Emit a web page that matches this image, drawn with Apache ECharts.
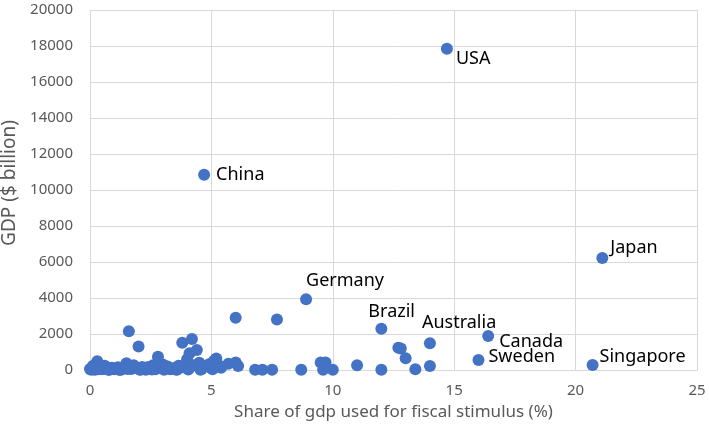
<!DOCTYPE html>
<html>
<head>
<meta charset="utf-8">
<script src="https://cdn.jsdelivr.net/npm/echarts@6/dist/echarts.min.js"></script>
<style>
  html, body { margin: 0; padding: 0; background: #fff; }
  #chart { width: 709px; height: 424px; }
</style>
</head>
<body>
<div id="chart"></div>
<script>
// labelled countries
var countryNames = ['USA', 'China', 'Japan', 'Germany', 'Brazil', 'Australia', 'Canada', 'Sweden', 'Singapore'];
var countryShare = [14.7, 4.7, 21.1, 8.9, 12.0, 14.0, 16.4, 16.0, 20.7];
var countryGdp = [17850, 10850, 6220, 3930, 2290, 1480, 1890, 560, 280];

// unlabelled countries
var otherShare = [
  1.6, 2.0, 3.8, 4.2, 4.1, 4.4, 2.8, 0.3, 5.2, 5.7, 6.0, 6.1, 6.8, 7.1, 7.5,
  6.0, 7.7, 8.7, 9.5, 9.7, 9.6, 10.0, 11.0, 12.0, 12.7, 12.8, 13.0, 13.4, 14.0,
  0.0, 0.1, 0.2, 0.4, 0.5, 0.6, 0.7, 0.8, 0.9, 1.0, 1.1, 1.2, 1.3, 1.4, 1.5,
  1.7, 1.8, 1.9, 2.1, 2.2, 2.3, 2.4, 2.5, 2.6, 2.7, 2.9, 3.0, 3.1, 3.2, 3.3,
  3.4, 3.5, 3.6, 3.7, 3.9, 4.0, 4.3, 4.5, 4.6, 4.8, 4.9, 5.0, 5.1, 5.3, 5.4,
  0.05, 0.35, 0.75, 1.25, 1.55, 2.05, 2.55, 3.05, 3.55, 4.05, 4.55, 5.05,
  0.15, 0.65, 1.15, 1.65, 2.15, 2.65, 3.15, 3.65, 4.15, 4.65, 5.15
];
var otherGdp = [
  2150, 1300, 1520, 1720, 930, 1110, 740, 480, 640, 350, 420, 220, 20, 20, 20,
  2900, 2810, 20, 420, 420, 20, 20, 260, 20, 1230, 1200, 650, 40, 220,
  60, 180, 20, 120, 40, 230, 60, 10, 130, 40, 80, 20, 30, 100, 380,
  60, 260, 130, 30, 90, 20, 160, 60, 260, 40, 130, 300, 90, 190, 40,
  70, 110, 30, 220, 140, 600, 260, 400, 50, 210, 320, 110, 500, 260, 130,
  10, 40, 20, 10, 60, 10, 30, 20, 10, 30, 20, 40,
  250, 180, 150, 200, 170, 220, 160, 240, 190, 230, 180
];

var xTicks = ['0', '5', '10', '15', '20', '25'];

// text placement of each country label, relative to its dot
var labelOffset = {
  'USA': [9, 10], 'China': [12, 0], 'Japan': [8, -10], 'Germany': [0, -18],
  'Brazil': [-13, -17], 'Australia': [-8, -20], 'Canada': [11, 6],
  'Sweden': [10, -3], 'Singapore': [7, -8]
};

var pts = [];
otherShare.forEach(function (s, i) {
  pts.push({ value: [s, otherGdp[i]] });
});
countryNames.forEach(function (n, i) {
  pts.push({
    name: n,
    value: [countryShare[i], countryGdp[i]],
    label: {
      show: true,
      formatter: n,
      position: 'inside',
      align: 'left',
      verticalAlign: 'middle',
      offset: labelOffset[n],
      color: '#000',
      fontSize: 18,
      fontFamily: 'Noto Sans'
    }
  });
});

var chart = echarts.init(document.getElementById('chart'));
chart.setOption({
  animation: false,
  grid: { left: 90, right: 12, top: 10, bottom: 54, outerBoundsMode: 'none', containLabel: false },
  xAxis: {
    type: 'value',
    min: 0, max: 25, interval: 5,
    name: 'Share of gdp used for fiscal stimulus (%)',
    nameLocation: 'middle',
    nameGap: 34,
    nameTextStyle: { color: '#595959', fontSize: 17, fontFamily: 'Noto Sans' },
    axisLine: { show: true, lineStyle: { color: '#d9d9d9', width: 1 } },
    axisTick: { show: false },
    axisLabel: {
      color: '#595959', fontSize: 15, fontFamily: 'Noto Sans', margin: 13,
      formatter: function (v) { return xTicks[v / 5]; }
    },
    splitLine: { show: true, lineStyle: { color: '#d9d9d9', width: 1 } }
  },
  yAxis: {
    type: 'value',
    min: 0, max: 20000, interval: 2000,
    name: 'GDP ($ billion)',
    nameLocation: 'middle',
    nameGap: 70,
    nameTextStyle: { color: '#595959', fontSize: 19, fontFamily: 'Noto Sans', padding: [0, 0, 0, 14] },
    axisLine: { show: false },
    axisTick: { show: false },
    axisLabel: {
      color: '#595959', fontSize: 15, fontFamily: 'Noto Sans', margin: 17,
      formatter: function (v) { return String(v); }
    },
    splitLine: { show: true, lineStyle: { color: '#d9d9d9', width: 1 } }
  },
  series: [{
    type: 'scatter',
    symbolSize: 12,
    itemStyle: { color: '#4472C4', opacity: 1 },
    data: pts
  }]
});
</script>
</body>
</html>
